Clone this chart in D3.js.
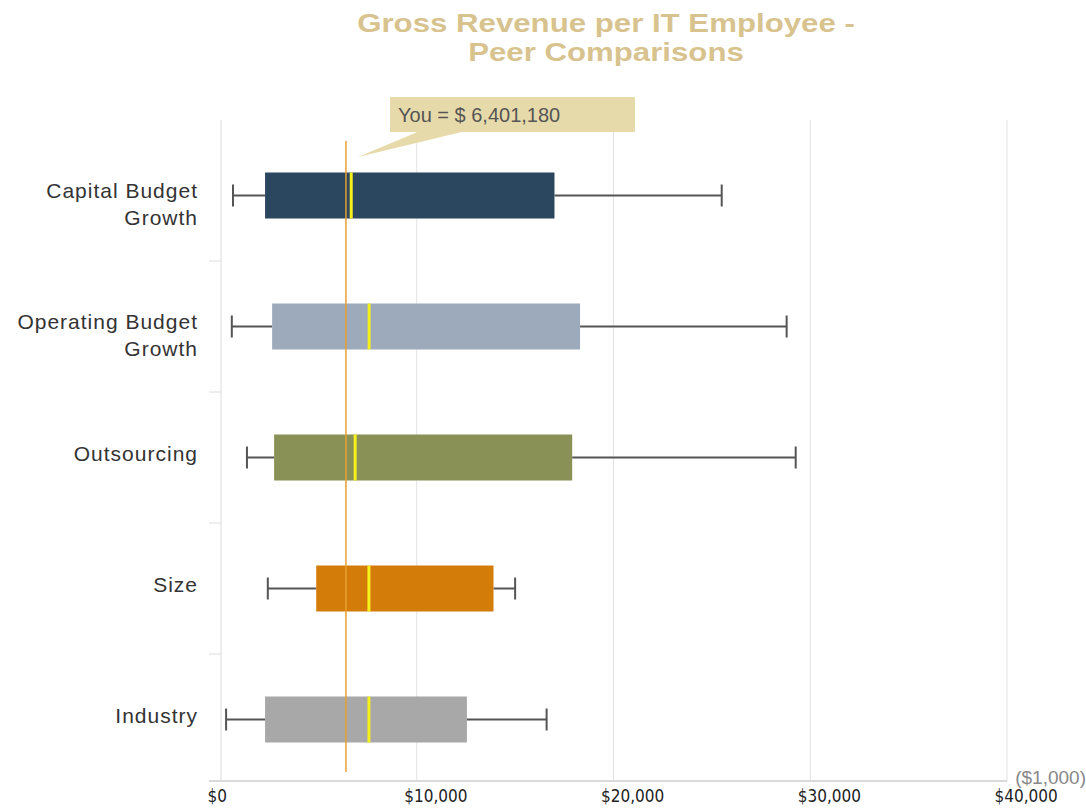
<!DOCTYPE html>
<html>
<head>
<meta charset="utf-8">
<script src="https://cdn.jsdelivr.net/npm/d3@7"></script>
<style>
  body { margin: 0; background: #fff; }
  svg { display: block; font-family: "Liberation Sans", Arial, sans-serif; }
</style>
</head>
<body>
<div id="chart"></div>
<script>
// values in $1,000
const categories = ['Capital Budget Growth', 'Operating Budget Growth', 'Outsourcing', 'Size', 'Industry'];
const labelLines = [['Capital Budget', 'Growth'], ['Operating Budget', 'Growth'], ['Outsourcing'], ['Size'], ['Industry']];
const whiskerMin = [0.66, 0.60, 1.37, 2.43, 0.31];
const q1 = [2.29, 2.65, 2.75, 4.89, 2.29];
const median = [6.67, 7.58, 6.87, 7.57, 7.57];
const q3 = [17.0, 18.3, 17.9, 13.9, 12.55];
const whiskerMax = [25.5, 28.8, 29.26, 15.0, 16.6];
const boxColors = ['#2B475F', '#9CAABB', '#8A9156', '#D47C0A', '#A8A8A8'];
const youValue = 6401.18;
const youLabel = 'You = $ 6,401,180';
const xTicks = [0, 10000, 20000, 30000, 40000];
const titleLines = ['Gross Revenue per IT Employee -', 'Peer Comparisons'];

const W = 1086, H = 810;
const plotLeft = 220, plotRight = 1007, plotTop = 120, plotBottom = 781;
const narrowFont = '"Liberation Sans Narrow", "Arial Narrow", "DejaVu Sans Condensed", sans-serif';

const svg = d3.select('#chart').append('svg')
  .attr('width', W).attr('height', H);

const x = d3.scaleLinear().domain([0, 40000]).range([plotLeft, plotRight]);
const y = d3.scaleBand().domain(categories).range([130, 785]);

// title (one text, two lines, a little stretched sideways like the original)
const title = svg.append('text')
  .attr('text-anchor', 'middle')
  .attr('font-size', 26).attr('font-weight', 'bold')
  .attr('fill', '#D8C38E');
title.selectAll('tspan')
  .data(titleLines)
  .join('tspan')
  .attr('x', 606)
  .attr('y', (d, i) => 32 + i * 29)
  .text(d => d);
title.selectAll('tspan').each(function () {
  const len = this.getComputedTextLength();
  d3.select(this).attr('textLength', len * 1.2).attr('lengthAdjust', 'spacingAndGlyphs');
});

// grid lines
svg.append('g').selectAll('line')
  .data(xTicks.slice(1))
  .join('line')
  .attr('x1', d => x(d)).attr('x2', d => x(d))
  .attr('y1', plotTop).attr('y2', plotBottom)
  .attr('stroke', '#e2e2e2').attr('stroke-width', 1);

// left axis line + category separators
svg.append('line')
  .attr('x1', plotLeft + 1).attr('x2', plotLeft + 1)
  .attr('y1', plotTop).attr('y2', plotBottom)
  .attr('stroke', '#dcdcdc');
svg.append('g').selectAll('line')
  .data(categories.slice(1))
  .join('line')
  .attr('x1', plotLeft - 11).attr('x2', plotLeft + 1)
  .attr('y1', d => y(d)).attr('y2', d => y(d))
  .attr('stroke', '#dcdcdc');

// bottom axis
const xAxis = d3.axisBottom(x)
  .tickValues(xTicks)
  .tickSize(0)
  .tickPadding(9)
  .tickFormat(d => '$' + d3.format(',')(d));
const gx = svg.append('g')
  .attr('transform', `translate(0,${plotBottom})`)
  .call(xAxis);
gx.select('.domain')
  .attr('d', `M${plotLeft - 11},0H${plotRight}`)
  .attr('stroke', '#dadada').attr('stroke-width', 2);
gx.selectAll('text')
  .attr('text-anchor', 'start')
  .attr('x', -13)
  .attr('font-family', narrowFont)
  .attr('font-size', 17).attr('fill', '#222');

svg.append('text')
  .attr('x', 1086).attr('y', 784)
  .attr('text-anchor', 'end')
  .attr('font-size', 19).attr('fill', '#888')
  .text('($1,000)');

// category labels
const labels = svg.append('g').selectAll('text')
  .data(categories)
  .join('text')
  .attr('text-anchor', 'end')
  .attr('font-size', 21).attr('fill', '#333')
  .attr('letter-spacing', 1)
  .attr('y', (d, i) => y(d) + y.bandwidth() / 2 + (labelLines[i].length > 1 ? 2 : 3));
labels.selectAll('tspan')
  .data((d, i) => labelLines[i].map((t, j) => ({ t, j })))
  .join('tspan')
  .attr('x', 198)
  .attr('dy', d => d.j === 0 ? 0 : 27)
  .text(d => d.t);

// boxes
const boxH = 46;
const rows = categories.map((c, i) => ({
  c, min: whiskerMin[i] * 1000, q1: q1[i] * 1000, med: median[i] * 1000,
  q3: q3[i] * 1000, max: whiskerMax[i] * 1000, color: boxColors[i]
}));
const g = svg.append('g').selectAll('g')
  .data(rows)
  .join('g')
  .attr('transform', d => `translate(0,${y(d.c) + y.bandwidth() / 2})`);

g.append('line')
  .attr('x1', d => x(d.min)).attr('x2', d => x(d.q1))
  .attr('y1', 0).attr('y2', 0)
  .attr('stroke', '#555').attr('stroke-width', 2);
g.append('line')
  .attr('x1', d => x(d.q3)).attr('x2', d => x(d.max))
  .attr('y1', 0).attr('y2', 0)
  .attr('stroke', '#555').attr('stroke-width', 2);
g.append('line')
  .attr('x1', d => x(d.min)).attr('x2', d => x(d.min))
  .attr('y1', -11).attr('y2', 11)
  .attr('stroke', '#555').attr('stroke-width', 2);
g.append('line')
  .attr('x1', d => x(d.max)).attr('x2', d => x(d.max))
  .attr('y1', -11).attr('y2', 11)
  .attr('stroke', '#555').attr('stroke-width', 2);
g.append('rect')
  .attr('x', d => x(d.q1)).attr('width', d => x(d.q3) - x(d.q1))
  .attr('y', -boxH / 2).attr('height', boxH)
  .attr('fill', d => d.color);
g.append('line')
  .attr('x1', d => x(d.med)).attr('x2', d => x(d.med))
  .attr('y1', -boxH / 2).attr('y2', boxH / 2)
  .attr('stroke', '#F6F01C').attr('stroke-width', 3);

// "You" line
svg.append('line')
  .attr('x1', x(youValue)).attr('x2', x(youValue))
  .attr('y1', 141).attr('y2', 772)
  .attr('stroke', '#E8A030').attr('stroke-width', 1.5);

// callout
const cx = x(youValue);
svg.append('path')
  .attr('d', `M${cx + 12},157 L${cx + 74},131 L${cx + 120},131 Z`)
  .attr('fill', '#E6DAAA');
svg.append('rect')
  .attr('x', 390).attr('y', 97).attr('width', 245).attr('height', 35)
  .attr('fill', '#E6DAAA');
svg.append('text')
  .attr('x', 398).attr('y', 122)
  .attr('font-size', 20).attr('fill', '#555')
  .text(youLabel);
</script>
</body>
</html>
